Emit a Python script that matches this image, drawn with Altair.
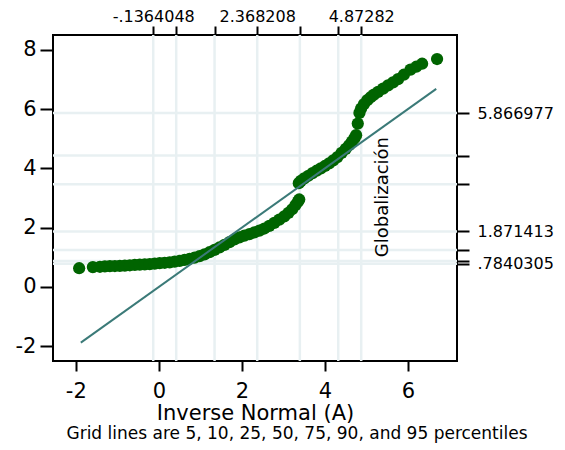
import altair as alt
import pandas as pd

# Quantile pairs (inverse normal, Globalización)
qx = [-1.92, -1.59, -1.42, -1.30, -1.18, -1.06, -0.94, -0.82, -0.70, -0.58,
      -0.46, -0.34, -0.22, -0.10, 0.02, 0.14, 0.26, 0.38, 0.50, 0.62,
      0.74, 0.86, 0.98, 1.10, 1.22, 1.34, 1.46, 1.58, 1.70, 1.82,
      1.94, 2.06, 2.18, 2.30, 2.42, 2.54, 2.66, 2.78, 2.90, 3.02,
      3.12, 3.21, 3.29, 3.35, 3.38,
      3.37, 3.42, 3.50, 3.60, 3.70, 3.80, 3.90, 4.00, 4.10, 4.20,
      4.30, 4.40, 4.50, 4.58, 4.65, 4.71, 4.75, 4.79, 4.83, 4.87,
      4.94, 5.02, 5.10, 5.18, 5.28, 5.40, 5.52, 5.64, 5.76, 5.90,
      6.06, 6.20, 6.34, 6.70]
qy = [0.63, 0.67, 0.68, 0.69, 0.70, 0.705, 0.71, 0.72, 0.73, 0.74,
      0.75, 0.76, 0.77, 0.785, 0.80, 0.815, 0.83, 0.855, 0.88, 0.91,
      0.95, 0.99, 1.04, 1.10, 1.17, 1.25, 1.33, 1.42, 1.51, 1.60,
      1.67, 1.73, 1.78, 1.84, 1.90, 1.97, 2.06, 2.16, 2.27, 2.38,
      2.50, 2.62, 2.76, 2.88, 2.95,
      3.50, 3.58, 3.66, 3.75, 3.84, 3.92, 4.00, 4.08, 4.17, 4.27,
      4.38, 4.52, 4.66, 4.78, 4.90, 5.02, 5.12, 5.51, 5.87, 6.02,
      6.17, 6.30, 6.40, 6.49, 6.58, 6.69, 6.80, 6.90, 7.01, 7.16,
      7.33, 7.43, 7.53, 7.69]

# Reference line y = x
line_x = [-1.88, 6.68]
line_y = [-1.88, 6.68]

# Percentile grid lines (5, 10, 25, 50, 75, 90, 95)
grid_x = [-0.1364048, 0.417, 1.341, 2.368208, 3.395, 4.320, 4.87282]
grid_y = [0.7840305, 0.872, 1.243, 1.871413, 3.46, 4.43, 5.866977]
top_labels = ["-.1364048", "", "", "2.368208", "", "", "4.87282"]
right_labels = [".7840305", "", "", "1.871413", "", "", "5.866977"]

x_ticks = [-2, 0, 2, 4, 6]
y_ticks = [-2, 0, 2, 4, 6, 8]

var_label = ["Globalización"]
var_label_x = [5.40]
var_label_y = [3.03]

x_title = "Inverse Normal (A)"
note = "Grid lines are 5, 10, 25, 50, 75, 90, and 95 percentiles"

FONT = "DejaVu Sans"
XDOM = [-2.55, 7.18]
YDOM = [-2.5, 8.5]
GRID_COLOR = "#e8f0f2"
HYPHEN_LABEL = "datum.value < 0 ? '-' + abs(datum.value) : '' + datum.value"


def lab_expr(vals, labs):
    parts = []
    for v, l in zip(vals, labs):
        if l:
            parts.append(f"abs(datum.value - ({v})) < 1e-6 ? '{l}' : ")
    return "".join(parts) + "''"


xs = alt.Scale(domain=XDOM, nice=False, zero=False)
ys = alt.Scale(domain=YDOM, nice=False, zero=False)

common_axis = dict(grid=False, domain=False, tickColor="black", tickWidth=2,
                   labelColor="black", labelFont=FONT)

vgrid = alt.Chart(pd.DataFrame({"g": grid_x})).mark_rule(
    color=GRID_COLOR, strokeWidth=2.5
).encode(
    x=alt.X("g:Q", scale=xs, axis=alt.Axis(
        orient="top", values=grid_x, labelExpr=lab_expr(grid_x, top_labels),
        title=None, tickSize=9, labelPadding=2, labelFontSize=16,
        labelOverlap=False, **common_axis))
)

hgrid = alt.Chart(pd.DataFrame({"g": grid_y})).mark_rule(
    color=GRID_COLOR, strokeWidth=2.5
).encode(
    y=alt.Y("g:Q", scale=ys, axis=alt.Axis(
        orient="right", values=grid_y, labelExpr=lab_expr(grid_y, right_labels),
        title=None, tickSize=12, labelPadding=8, labelFontSize=16,
        labelOverlap=False, **common_axis))
)

points = alt.Chart(pd.DataFrame({"x": qx, "y": qy})).mark_circle(
    size=150, color="#006400", opacity=1
).encode(
    x=alt.X("x:Q", scale=xs, axis=alt.Axis(
        orient="bottom", values=x_ticks, title=x_title, tickSize=10,
        labelPadding=9, labelFontSize=21, labelExpr=HYPHEN_LABEL,
        titleFont=FONT, titleFontSize=21,
        titleFontWeight="normal", titleColor="black", titlePadding=1,
        **common_axis)),
    y=alt.Y("y:Q", scale=ys, axis=alt.Axis(
        orient="left", values=y_ticks, title=None, tickSize=13,
        labelPadding=4, labelFontSize=21, labelExpr=HYPHEN_LABEL,
        **common_axis)),
)

line = alt.Chart(pd.DataFrame({"x": line_x, "y": line_y})).mark_line(
    color="#3b7a78", strokeWidth=2
).encode(
    x=alt.X("x:Q", scale=xs, axis=None),
    y=alt.Y("y:Q", scale=ys, axis=None),
)

label = alt.Chart(pd.DataFrame({"x": var_label_x, "y": var_label_y, "t": var_label})).mark_text(
    angle=270, fontSize=18, font=FONT, color="black", align="center", baseline="middle"
).encode(
    x=alt.X("x:Q", scale=xs, axis=None),
    y=alt.Y("y:Q", scale=ys, axis=None),
    text="t:N",
)

chart = alt.layer(vgrid, hgrid, points, line, label).resolve_axis(
    x="independent", y="independent"
).properties(
    width=404, height=326,
    title=alt.TitleParams(note, orient="bottom", anchor="middle", frame="group",
                          fontSize=17, font=FONT, fontWeight="normal",
                          color="black", dx=42, offset=3),
    padding={"left": 45, "top": 27, "right": 100, "bottom": 90},
    autosize=alt.AutoSizeParams(type="none"),
).configure_view(stroke="black", strokeWidth=2)

chart.save("out.html", embed_options={"renderer": "svg", "actions": False})
